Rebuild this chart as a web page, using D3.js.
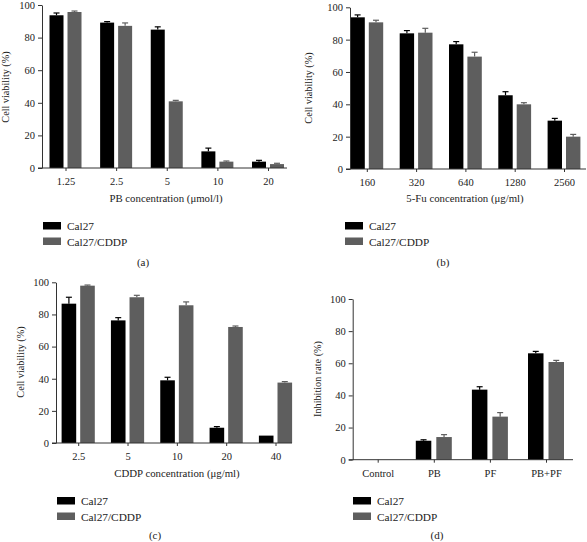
<!DOCTYPE html>
<html><head><meta charset="utf-8">
<script src="https://cdn.jsdelivr.net/npm/d3@7"></script>
<style>body{margin:0;background:#fff}svg{display:block}text{font-family:"Liberation Serif","Times New Roman",serif;fill:#222}</style>
</head><body>
<script>
const seriesNames = ["Cal27", "Cal27/CDDP"];
const seriesColors = ["#000000", "#5e5e5e"];
const yTicks = [0, 20, 40, 60, 80, 100];

const aCategories = ["1.25", "2.5", "5", "10", "20"];
const aCal27 = [93.7, 89.2, 84.9, 10.2, 3.9];
const aCal27Err = [1.4, 0.6, 1.7, 2.0, 0.8];
const aCDDP = [95.7, 87.2, 40.9, 3.9, 2.4];
const aCDDPErr = [0.6, 1.8, 0.6, 0.4, 0.5];

const bCategories = ["160", "320", "640", "1280", "2560"];
const bCal27 = [93.8, 83.9, 77.1, 45.6, 29.9];
const bCal27Err = [1.5, 1.7, 1.7, 2.2, 1.4];
const bCDDP = [90.7, 84.3, 69.5, 40.0, 20.0];
const bCDDPErr = [1.3, 2.7, 2.7, 1.0, 1.4];

const cCategories = ["2.5", "5", "10", "20", "40"];
const cCal27 = [86.7, 76.3, 39.0, 9.5, 4.6];
const cCal27Err = [4.0, 1.7, 1.9, 0.7, 0];
const cCDDP = [97.9, 90.7, 85.7, 72.2, 37.6];
const cCDDPErr = [0.4, 1.2, 2.1, 0.6, 0.6];

const dCategories = ["Control", "PB", "PF", "PB+PF"];
const dCal27 = [0, 11.8, 43.6, 66.2];
const dCal27Err = [0, 0.6, 1.8, 1.2];
const dCDDP = [0, 14.1, 26.8, 60.8];
const dCDDPErr = [0, 1.5, 2.5, 1.0];

const svg = d3.select("body").append("svg").attr("width", 587).attr("height", 542);

const panels = [
  {cats: aCategories, vals: [aCal27, aCDDP], errs: [aCal27Err, aCDDPErr], xTitle: "PB concentration (\u03bcmol/l)", yTitle: "Cell viability (%)", label: "(a)",
   ax: 42, y0: 168, y100: 5, c0: 65.5, c1: 268, xEnd: 287, barW: 14, gap: 4,
   xTitlePos: [166, 202], yTitlePos: [9, 87], legX: 43, legY: 222, labelPos: [143, 266]},
  {cats: bCategories, vals: [bCal27, bCDDP], errs: [bCal27Err, bCDDPErr], xTitle: "5-Fu concentration (\u03bcg/ml)", yTitle: "Cell viability (%)", label: "(b)",
   ax: 350, y0: 169, y100: 7.3, c0: 366.8, c1: 564, xEnd: 586, barW: 14.4, gap: 4,
   xTitlePos: [465, 202], yTitlePos: [312, 88], legX: 345, legY: 222, labelPos: [443, 266]},
  {cats: cCategories, vals: [cCal27, cCDDP], errs: [cCal27Err, cCDDPErr], xTitle: "CDDP concentration (\u03bcg/ml)", yTitle: "Cell viability (%)", label: "(c)",
   ax: 56, y0: 443, y100: 282.3, c0: 78.2, c1: 275.5, xEnd: 292, barW: 14.6, gap: 4,
   xTitlePos: [177, 477], yTitlePos: [24, 362], legX: 57, legY: 497, labelPos: [155, 539]},
  {cats: dCategories, vals: [dCal27, dCDDP], errs: [dCal27Err, dCDDPErr], xTitle: null, yTitle: "Inhibition rate (%)", label: "(d)",
   ax: 352.7, y0: 459.7, y100: 299, c0: 377.7, c1: 546, xEnd: 573, barW: 15.5, gap: 5,
   xTitlePos: null, yTitlePos: [321, 379], legX: 353, legY: 497, labelPos: [437, 539]}
];

panels.forEach(p => {
  const g = svg.append("g");
  const y = d3.scaleLinear().domain([0, 100]).range([p.y0, p.y100]);
  const x = d3.scalePoint().domain(p.cats).range([p.c0, p.c1]);
  const half = p.barW + p.gap / 2;
  const x1 = d3.scaleBand().domain(seriesNames).range([-half, half]).paddingInner(p.gap / (p.barW + p.gap)).paddingOuter(0);

  // bars
  seriesNames.forEach((s, si) => {
    const data = p.cats.map((c, i) => ({c, v: p.vals[si][i], e: p.errs[si][i]}));
    g.selectAll(null).data(data).enter().append("rect")
      .attr("x", d => x(d.c) + x1(s))
      .attr("y", d => y(d.v))
      .attr("width", x1.bandwidth())
      .attr("height", d => y(0) - y(d.v))
      .attr("fill", seriesColors[si]);
    const eb = data.filter(d => d.e > 0);
    const cx = d => x(d.c) + x1(s) + x1.bandwidth() / 2;
    g.selectAll(null).data(eb).enter().append("line")
      .attr("x1", cx).attr("x2", cx)
      .attr("y1", d => y(d.v)).attr("y2", d => y(d.v + d.e))
      .attr("stroke", seriesColors[si]).attr("stroke-width", 1.2);
    g.selectAll(null).data(eb).enter().append("line")
      .attr("x1", d => cx(d) - 3).attr("x2", d => cx(d) + 3)
      .attr("y1", d => y(d.v + d.e)).attr("y2", d => y(d.v + d.e))
      .attr("stroke", seriesColors[si]).attr("stroke-width", 1.2);
  });

  // y axis
  const ya = g.append("g").attr("transform", `translate(${p.ax},0)`)
    .call(d3.axisLeft(y).tickValues(yTicks).tickSize(4).tickPadding(3).tickSizeOuter(0));
  ya.select(".domain").attr("stroke", "#333");
  ya.selectAll(".tick line").attr("stroke", "#333");
  ya.selectAll("text").style("font-size", "10.5px").attr("fill", "#222");

  // x axis
  const xa = g.append("g").attr("transform", `translate(0,${p.y0})`)
    .call(d3.axisBottom(x).tickSize(3).tickPadding(7).tickSizeOuter(0));
  xa.select(".domain").remove();
  xa.append("line").attr("x1", p.ax - 4).attr("x2", p.xEnd).attr("y1", 0).attr("y2", 0).attr("stroke", "#333");
  xa.selectAll(".tick line").attr("stroke", "#333");
  xa.selectAll("text").style("font-size", "10.5px").attr("fill", "#222");

  if (p.xTitle) {
    g.append("text").attr("x", p.xTitlePos[0]).attr("y", p.xTitlePos[1]).attr("text-anchor", "middle")
      .style("font-size", "10.8px").text(p.xTitle);
  }
  g.append("text").attr("transform", `translate(${p.yTitlePos[0]},${p.yTitlePos[1]}) rotate(-90)`)
    .attr("text-anchor", "middle").style("font-size", "10.2px").text(p.yTitle);

  // legend
  seriesNames.forEach((s, si) => {
    const ly = p.legY + si * 15.5;
    g.append("rect").attr("x", p.legX).attr("y", ly).attr("width", 18).attr("height", 7.5).attr("fill", seriesColors[si]);
    g.append("text").attr("x", p.legX + 24).attr("y", ly + 8).style("font-size", "11.3px").text(s);
  });

  g.append("text").attr("x", p.labelPos[0]).attr("y", p.labelPos[1]).attr("text-anchor", "middle")
    .style("font-size", "11px").text(p.label);
});
</script>
</body></html>
